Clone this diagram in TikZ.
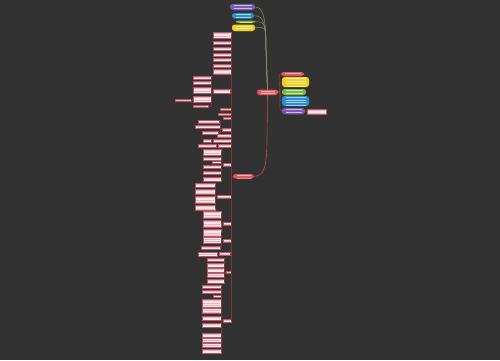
\documentclass[tikz,border=0pt]{standalone}
\usetikzlibrary{calc}
\definecolor{bg}{HTML}{323232}
\definecolor{boxfill}{HTML}{FBE9EB}
\definecolor{boxedge}{HTML}{B85566}
\definecolor{fauxc}{HTML}{EDB3BC}
\definecolor{lconnc}{HTML}{823636}
\definecolor{mainc}{HTML}{C24E50}
\definecolor{topc}{HTML}{8C8F62}
\definecolor{rootc}{HTML}{E5535C}
\definecolor{pred}{HTML}{E25462}
\definecolor{pyel}{HTML}{F2CF1D}
\definecolor{pgrn}{HTML}{78BE3C}
\definecolor{pblu}{HTML}{2A8ED6}
\definecolor{ppur}{HTML}{7A5BB3}
\tikzset{
  fauxline/.style={draw=fauxc, line width=0.5pt},
  fauxwhite/.style={draw=white, draw opacity=0.6, line width=0.5pt},
  lbox/.style={rectangle, draw=boxedge, fill=boxfill, line width=0.3pt, inner sep=0pt,
    path picture={\foreach \k in {0,...,10}{\draw[fauxline] ([xshift=1.4pt,yshift={-1.4pt-2.5pt*\k}]path picture bounding box.north west) -- ([xshift=-1.4pt,yshift={-1.4pt-2.5pt*\k}]path picture bounding box.north east);}}},
  pill/.style={rectangle, rounded corners=2.6pt, inner sep=0pt, draw=none,
    path picture={\foreach \k in {0,...,4}{\draw[fauxwhite] ([xshift=3.5pt,yshift={-1.7pt-2.4pt*\k}]path picture bounding box.north west) -- ([xshift=-3.5pt,yshift={-1.7pt-2.4pt*\k}]path picture bounding box.north east);}}},
  lconn/.style={draw=lconnc, line width=0.6pt},
  mconn/.style={draw=mainc, line width=0.6pt},
  tconn/.style={draw=topc, line width=0.5pt},
  rconn/.style={draw=mainc!80!black, line width=0.5pt},
}
\newcommand\bx[5]{\node[lbox, minimum width={#4pt-#2pt}, minimum height={#5pt-#3pt}] (#1) at ({(#2+#4)/2},{(#3+#5)/2}) {};}
\newcommand\pl[6]{\node[pill, fill=#6, minimum width={#4pt-#2pt}, minimum height={#5pt-#3pt}] (#1) at ({(#2+#4)/2},{(#3+#5)/2}) {};}
\newcommand\kids[2]{\foreach \c in {#2}{\draw[lconn] (#1.west) -- ++(-1.5,0) |- (\c.east);}}
\begin{document}
\begin{tikzpicture}[x=1pt,y=-1pt]
\fill[bg] (0,0) rectangle (500,360);
\useasboundingbox (0,0) rectangle (500,360);

% root and main branches
\pl{R}{257}{89.5}{278}{95}{rootc}
\pl{T1}{230}{4}{255}{10}{ppur}
\pl{T2}{232}{13}{254}{18.5}{pblu}
\pl{T3}{236}{20.5}{255}{23}{pgrn}
\pl{T4}{232}{24.5}{255}{31}{pyel}
\pl{L}{233}{174}{254}{178.5}{rootc}

\pl{C1}{281}{72}{304}{76}{pred}
\pl{C2}{282}{77}{309}{87}{pyel}
\pl{C3}{282}{89}{306}{95}{pgrn}
\pl{C4}{282}{96}{309}{106}{pblu}
\pl{C5}{282}{108}{305}{114}{ppur}
\bx{C6}{307}{109}{326}{114}

\foreach \t in {T1,T2,T3,T4}{
  \draw[tconn] (R.north) -- (266,50) .. controls (266,22) and +(9,0) .. (\t.east);}
\draw[mconn] (R.south) -- (267,140) .. controls (267,168) and +(9,0) .. (L.east);
\foreach \c in {C1,C2,C3,C4,C5}{
  \draw[rconn] (R.east) .. controls +(5,0) and +(-5,0) .. (\c.west);}
\draw[rconn] (C5.east) -- (C6.west);

% left column: direct children of L
\bx{A1}{213}{32}{231}{38}
\bx{A2}{213}{41}{231}{44}
\bx{A3}{213}{47}{231}{50}
\bx{A4}{213}{53}{231}{56}
\bx{A5}{213}{58}{231}{61}
\bx{A6}{213}{64}{231}{67}
\bx{A7}{213}{69}{231}{74}
\bx{A8}{213}{89}{230}{93}
\bx{A9}{220}{108}{231}{110.5}
\bx{A10}{218}{113}{231}{115.5}
\bx{A11}{223}{117}{231}{119.5}
\bx{A12}{222}{128}{231}{131}
\bx{A13}{217}{134.5}{231}{137}
\bx{A14}{213}{139}{231}{142}
\bx{A15}{218}{144}{231}{147}
\bx{A16}{223}{163.5}{231}{166}
\bx{A17}{217}{195.5}{231}{198}
\bx{A18}{223}{222.5}{231}{225}
\bx{A19}{223}{239.5}{231}{242}
\bx{A20}{219}{252.5}{230}{255.5}
\bx{A21}{226}{271}{231}{273.5}
\bx{A22}{223}{319}{231}{322}
\kids{L}{A1,A2,A3,A4,A5,A6,A7,A8,A9,A10,A11,A12,A13,A14,A15,A16,A17,A18,A19,A20,A21,A22}

% sub children
\bx{B1}{193}{76}{211}{79}
\bx{B2}{193}{81}{211}{84}
\bx{B3}{193}{87}{211}{93}
\bx{B4}{193}{96}{211}{102}
\bx{B5}{193}{105}{208}{107.5}
\kids{A8}{B1,B2,B3,B4,B5}
\bx{B6}{175}{99}{191}{101}
\kids{B4}{B6}

\bx{D1}{198}{120.5}{219}{123}
\bx{D2}{195}{125}{220}{128}
\bx{D3}{202}{131}{218}{134}
\kids{A12}{D1,D2,D3}
\bx{D4}{203}{139}{211}{142}
\kids{A14}{D4}
\bx{D5}{198}{144}{216}{147}
\kids{A15}{D5}

\bx{E1}{203}{149}{221}{155}
\bx{E2}{203}{157}{221}{160}
\bx{E3}{212}{161.5}{221}{163.5}
\bx{E4}{203}{165}{221}{168}
\bx{E5}{203}{171}{221}{174}
\bx{E6}{203}{177}{221}{181}
\kids{A16}{E1,E2,E3,E4,E5,E6}

\bx{F1}{195}{183}{215}{187}
\bx{F2}{195}{189}{215}{194}
\bx{F3}{195}{196}{215}{203}
\bx{F4}{195}{205}{215}{210}
\kids{A17}{F1,F2,F3,F4}

\bx{G1}{203}{211}{221}{218}
\bx{G2}{203}{220}{221}{227}
\kids{A18}{G1,G2}
\bx{G3}{203}{229}{221}{236}
\bx{G4}{203}{237.5}{221}{243}
\bx{G5}{201}{246}{220}{249.5}
\kids{A19}{G3,G4,G5}
\bx{G6}{198}{252.5}{217}{256}
\kids{A20}{G6}

\bx{H1}{207}{258}{224}{261}
\bx{H2}{207}{263}{224}{267}
\bx{H3}{207}{268}{224}{272}
\bx{H4}{207}{273.5}{224}{277}
\bx{H5}{207}{279}{224}{283}
\kids{A21}{H1,H2,H3,H4,H5}

\bx{J1}{202}{285}{221}{288.5}
\bx{J2}{202}{290}{221}{293.5}
\bx{J3}{213}{295.5}{221}{297.5}
\bx{J4}{202}{299}{221}{307}
\bx{J5}{202}{308.5}{221}{313.5}
\bx{J6}{202}{316}{221}{320}
\bx{J7}{202}{323}{221}{327.5}
\bx{J8}{202}{333}{221}{337}
\bx{J9}{202}{338.5}{221}{342}
\bx{J10}{202}{343.5}{221}{347.5}
\bx{J11}{202}{349}{221}{353}
\kids{A22}{J1,J2,J3,J4,J5,J6,J7,J8,J9,J10,J11}
\end{tikzpicture}
\end{document}
